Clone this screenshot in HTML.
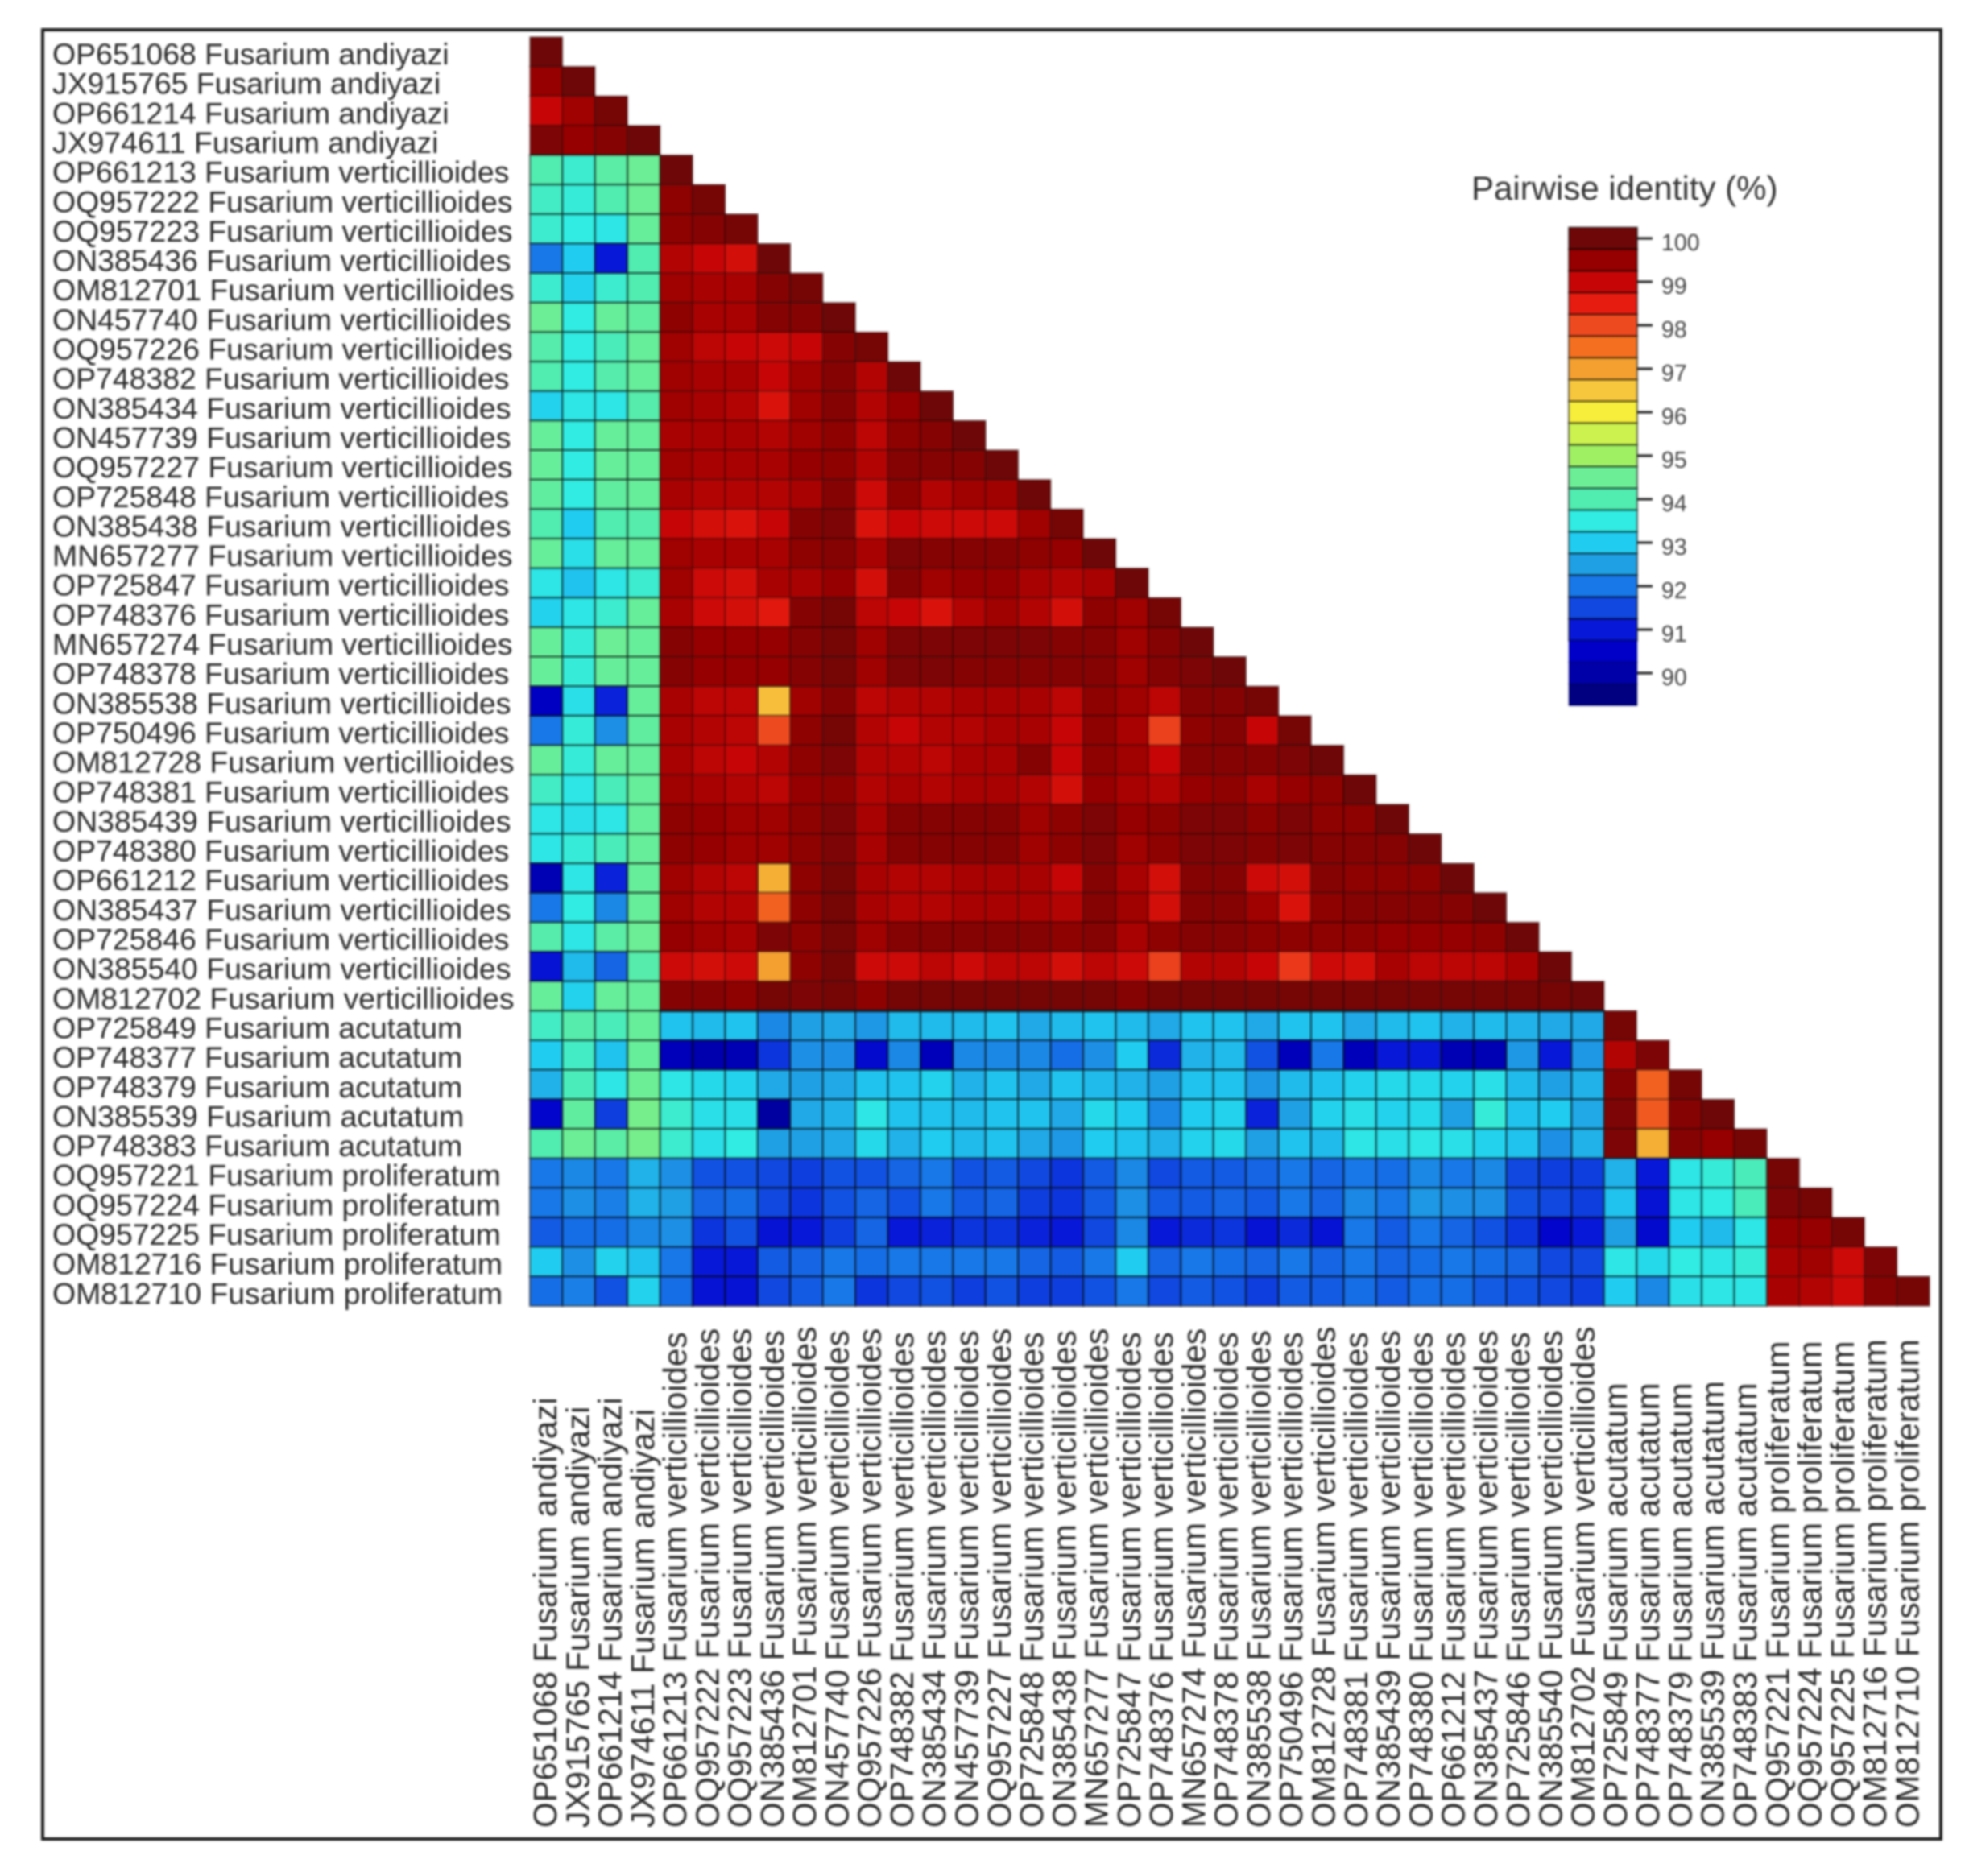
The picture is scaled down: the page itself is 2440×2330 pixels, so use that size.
<!DOCTYPE html>
<html lang="en">
<head>
<meta charset="utf-8">
<title>Pairwise identity heatmap of Fusarium isolates</title>
<style>
  html, body { margin: 0; padding: 0; background: #fff; }
  body { width: 2440px; height: 2330px; overflow: hidden; }
  #chart { display: block; filter: blur(1.4px); }
  text { font-family: "Liberation Sans", Arial, sans-serif; }
</style>
</head>
<body>
<svg id="chart" xmlns="http://www.w3.org/2000/svg" width="2440" height="2330" viewBox="0 0 2440 2330">
  <rect x="0" y="0" width="2440" height="2330" fill="#fff"></rect>
  <rect x="53" y="37" width="2357" height="2247" fill="none" stroke="#1c1c1c" stroke-width="4"></rect>
  <g id="cells"></g>
  <g id="row-labels"></g>
  <g id="col-labels"></g>
  <text x="1827" y="248" font-size="42" fill="#333">Pairwise identity (%)</text>
  <g id="colorbar"></g>
</svg>
<script>
const accessions = ["OP651068","JX915765","OP661214","JX974611","OP661213","OQ957222","OQ957223","ON385436","OM812701","ON457740","OQ957226","OP748382","ON385434","ON457739","OQ957227","OP725848","ON385438","MN657277","OP725847","OP748376","MN657274","OP748378","ON385538","OP750496","OM812728","OP748381","ON385439","OP748380","OP661212","ON385437","OP725846","ON385540","OM812702","OP725849","OP748377","OP748379","ON385539","OP748383","OQ957221","OQ957224","OQ957225","OM812716","OM812710"];
const species = ["andiyazi","andiyazi","andiyazi","andiyazi","verticillioides","verticillioides","verticillioides","verticillioides","verticillioides","verticillioides","verticillioides","verticillioides","verticillioides","verticillioides","verticillioides","verticillioides","verticillioides","verticillioides","verticillioides","verticillioides","verticillioides","verticillioides","verticillioides","verticillioides","verticillioides","verticillioides","verticillioides","verticillioides","verticillioides","verticillioides","verticillioides","verticillioides","verticillioides","acutatum","acutatum","acutatum","acutatum","acutatum","proliferatum","proliferatum","proliferatum","proliferatum","proliferatum"];
const tickValues = [100,99,98,97,96,95,94,93,92,91,90];
const identity = [
[100],
[99.5,100],
[99.0,99.4,99.9],
[99.8,99.5,99.7,100],
[94.0,93.7,94.2,94.5,100],
[93.8,93.6,94.0,94.5,99.6,99.9],
[93.7,93.5,93.4,94.4,99.6,99.7,99.9],
[92.0,93.0,91.0,94.0,99.2,99.0,98.8,100],
[93.7,93.1,93.7,94.0,99.4,99.3,99.3,99.7,99.9],
[94.5,93.5,94.4,94.3,99.6,99.3,99.3,99.7,99.7,100],
[94.1,93.5,93.9,94.4,99.4,99.1,99.0,98.9,99.0,99.7,99.9],
[94.0,93.5,94.1,94.4,99.4,99.3,99.3,99.0,99.4,99.7,99.2,100],
[93.1,93.4,93.4,94.1,99.4,99.3,99.2,98.7,99.4,99.7,99.2,99.5,100],
[94.4,93.5,94.4,94.4,99.3,99.3,99.3,99.2,99.4,99.6,99.1,99.6,99.7,100],
[94.4,93.5,94.4,94.4,99.4,99.3,99.3,99.3,99.5,99.6,99.2,99.7,99.7,99.7,100],
[94.3,93.5,94.3,94.4,99.3,99.2,99.2,99.2,99.3,99.7,98.9,99.6,99.2,99.4,99.4,100],
[94.0,93.0,94.0,94.1,99.0,98.8,98.7,99.0,99.7,99.8,98.7,99.0,98.9,98.9,98.9,99.4,99.9],
[94.4,93.3,94.4,94.4,99.4,99.3,99.3,99.3,99.6,99.7,99.3,99.8,99.7,99.7,99.7,99.6,99.5,100],
[93.4,92.9,93.4,93.7,99.4,98.9,98.8,99.3,99.3,99.5,98.8,99.7,99.4,99.5,99.5,99.3,99.2,99.3,100],
[93.1,93.4,93.7,94.4,99.3,98.9,98.8,98.6,99.7,99.9,99.1,99.0,98.7,99.2,99.4,99.2,98.8,99.6,99.4,99.9],
[94.4,93.6,94.5,94.4,99.7,99.5,99.5,99.5,99.7,99.9,99.4,99.8,99.8,99.8,99.8,99.8,99.7,99.7,99.4,99.7,100],
[94.4,93.6,94.4,94.4,99.7,99.5,99.5,99.5,99.7,99.9,99.4,99.8,99.8,99.7,99.7,99.7,99.7,99.7,99.4,99.7,99.8,100],
[90.4,93.3,91.1,94.4,99.3,99.1,99.1,96.6,99.4,99.7,99.1,99.2,99.2,99.3,99.3,99.3,99.1,99.6,99.4,99.1,99.7,99.7,99.9],
[92.0,93.6,92.3,94.3,99.3,99.2,99.1,98.0,99.6,99.9,99.2,99.0,99.2,99.2,99.3,99.3,99.0,99.6,99.3,98.1,99.6,99.7,99.0,99.9],
[94.4,93.6,94.4,94.4,99.3,99.1,99.0,99.2,99.6,99.8,99.2,99.2,99.1,99.3,99.3,99.7,99.0,99.6,99.4,99.0,99.7,99.7,99.7,99.8,100],
[93.8,93.4,93.9,94.4,99.4,99.3,99.2,99.1,99.5,99.6,99.2,99.3,99.2,99.3,99.3,99.2,98.8,99.5,99.3,99.2,99.5,99.6,99.3,99.5,99.6,100],
[93.4,93.3,93.4,94.4,99.6,99.5,99.4,99.4,99.6,99.8,99.3,99.7,99.7,99.7,99.7,99.4,99.6,99.8,99.5,99.6,99.8,99.8,99.6,99.8,99.6,99.6,100],
[93.4,93.6,93.9,94.4,99.6,99.5,99.4,99.4,99.6,99.8,99.3,99.7,99.7,99.7,99.7,99.4,99.6,99.8,99.4,99.6,99.8,99.8,99.7,99.8,99.7,99.7,99.7,100],
[90.2,93.4,91.1,94.4,99.4,99.2,99.1,96.8,99.6,99.9,99.3,99.2,99.2,99.3,99.3,99.3,99.0,99.7,99.3,98.8,99.7,99.7,98.9,98.8,99.7,99.6,99.6,99.6,100],
[92.0,93.5,92.2,94.4,99.4,99.2,99.2,97.7,99.6,99.9,99.3,99.2,99.2,99.3,99.3,99.3,99.2,99.7,99.4,98.8,99.7,99.7,99.4,98.7,99.6,99.7,99.7,99.7,99.7,100],
[94.1,93.4,94.2,94.5,99.5,99.4,99.3,99.8,99.6,99.9,99.4,99.7,99.7,99.7,99.7,99.7,99.6,99.7,99.3,99.6,99.7,99.7,99.6,99.6,99.6,99.6,99.5,99.5,99.5,99.6,100],
[90.9,92.8,91.8,94.1,98.9,98.8,98.9,97.0,99.6,99.9,98.9,98.9,99.1,98.9,99.1,99.1,98.8,99.1,98.9,98.1,99.2,99.2,99.0,98.2,98.9,98.8,99.3,99.1,99.1,99.1,99.3,100],
[94.4,93.1,94.4,94.4,99.7,99.7,99.6,99.9,99.8,99.9,99.6,99.9,99.9,99.9,99.9,99.9,99.9,99.9,99.7,99.9,99.9,99.9,99.9,99.9,99.9,99.9,99.9,99.9,99.9,99.9,99.9,99.9,100],
[93.8,94.1,93.9,94.4,92.9,92.8,92.9,92.2,92.5,92.6,92.4,92.8,92.8,92.8,92.9,92.6,92.8,92.9,92.8,92.6,92.9,92.9,92.6,92.9,92.9,92.6,92.8,92.9,92.7,92.8,92.7,92.6,92.6,99.9],
[93.0,93.8,92.9,94.4,90.3,90.1,90.2,91.3,92.3,92.3,90.7,92.2,90.3,92.2,92.2,92.2,91.9,92.3,93.0,91.2,92.7,92.8,91.6,90.3,92.0,90.3,91.0,91.0,90.2,90.2,92.4,91.0,92.4,99.2,99.8],
[92.7,93.9,93.4,94.5,93.4,93.2,93.1,92.6,92.5,92.6,92.9,92.9,93.1,92.7,92.9,92.6,92.9,92.8,92.7,92.5,92.9,92.9,92.4,92.8,92.9,93.1,93.2,93.2,93.1,93.3,92.8,92.5,92.7,99.7,97.7,99.9],
[90.6,94.3,91.4,94.6,93.7,93.3,93.3,89.9,92.6,92.7,93.4,92.9,92.9,92.8,92.9,92.9,92.6,93.2,93.0,92.2,93.0,93.1,91.1,92.5,93.1,93.3,93.1,93.2,92.5,93.6,92.9,93.0,92.6,99.8,97.8,99.7,100],
[94.0,94.5,94.2,94.6,93.7,93.3,93.5,92.5,92.5,92.6,93.2,92.7,93.0,92.8,92.9,92.6,92.4,93.0,92.9,92.7,93.1,93.2,92.5,92.9,92.8,93.4,93.3,93.4,93.3,93.1,92.9,92.3,92.7,99.8,96.8,99.7,99.5,99.9],
[92.0,92.2,92.0,92.7,92.3,91.6,91.6,91.5,91.4,91.6,91.6,91.8,92.0,91.6,91.7,91.5,91.3,91.7,92.2,91.5,91.7,91.7,91.8,92.0,91.8,92.0,91.9,92.2,92.0,92.2,91.5,91.4,91.4,92.7,91.0,93.4,93.6,93.9,99.9],
[92.0,92.3,92.1,92.7,92.5,91.8,91.9,91.5,91.3,91.6,91.8,91.6,92.0,91.7,91.8,91.4,91.3,91.7,92.3,91.7,91.7,91.8,91.7,92.0,91.8,92.2,92.0,92.4,92.3,92.3,91.6,91.5,91.4,92.9,90.9,93.4,93.5,93.9,99.8,99.9],
[91.7,91.9,91.9,92.2,92.3,91.3,91.6,90.9,91.0,91.4,91.8,91.0,91.1,91.3,91.3,91.1,91.0,91.5,92.2,91.0,91.2,91.3,90.9,91.2,90.9,92.0,91.7,92.0,91.8,91.6,91.3,90.6,91.0,92.5,90.7,93.0,92.8,93.4,99.5,99.5,99.9],
[93.0,92.3,93.1,92.9,92.0,91.0,91.0,91.7,91.8,92.0,91.9,92.0,92.0,92.0,92.0,91.8,91.7,92.0,93.0,91.8,92.0,91.9,91.8,92.0,91.8,92.0,91.8,91.9,92.0,91.9,91.8,91.5,91.5,93.4,93.2,93.5,93.4,93.6,99.3,99.4,98.9,99.8],
[91.9,92.1,91.6,93.1,91.9,90.9,90.9,91.5,91.7,92.0,91.3,91.5,91.6,91.4,91.6,91.4,91.4,91.6,92.0,91.5,91.7,91.6,91.4,91.7,91.7,91.9,91.7,91.9,91.9,91.7,91.6,91.5,91.4,93.0,92.2,93.3,93.4,93.4,99.3,99.2,98.9,99.7,99.9]
];
const stopValues = [100,99.5,99,98.5,98,97.5,97,96.5,96,95.5,95,94.5,94,93.5,93,92.5,92,91.5,91,90.5,90,89.5];
const stopColors = [[110,8,8],[150,0,0],[198,6,6],[230,28,16],[238,74,32],[244,112,32],[244,160,48],[246,198,60],[246,238,58],[204,242,80],[160,240,100],[108,238,150],[80,236,176],[48,236,226],[32,204,240],[32,160,228],[24,120,232],[16,72,224],[8,24,216],[0,0,200],[0,0,168],[0,0,128]];

const SVG_NS = "http://www.w3.org/2000/svg";
const gridLeft = 658, gridTop = 46, colStep = 40.42, rowStep = 36.65;
const barLeft = 1948, barWidth = 85, barTickTop = 296, pxPerUnit = 54;

function xCol(i) { return gridLeft + i * colStep; }
function yRow(j) { return gridTop + j * rowStep; }
function yBar(v) { return barTickTop + (100 - v) * pxPerUnit; }
function colorOf(v) {
  if (v >= stopValues[0]) return "rgb(" + stopColors[0].join(",") + ")";
  for (let k = 1; k < stopValues.length; k++) {
    if (v >= stopValues[k]) {
      const t = (v - stopValues[k]) / (stopValues[k - 1] - stopValues[k]);
      const a = stopColors[k], b = stopColors[k - 1];
      return "rgb(" + [0, 1, 2].map(function (c) { return Math.round(a[c] + (b[c] - a[c]) * t); }).join(",") + ")";
    }
  }
  return "rgb(" + stopColors[stopColors.length - 1].join(",") + ")";
}
function make(tag, attrs, parent, textValue) {
  const el = document.createElementNS(SVG_NS, tag);
  Object.keys(attrs).forEach(function (key) { el.setAttribute(key, attrs[key]); });
  if (textValue !== undefined) el.textContent = textValue;
  parent.appendChild(el);
  return el;
}

const cellsGroup = document.getElementById("cells");
identity.forEach(function (row, j) {
  row.forEach(function (value, i) {
    const cell = make("rect", {
      x: xCol(i), y: yRow(j), width: colStep, height: rowStep,
      fill: colorOf(value), stroke: "#000",
      "stroke-opacity": (value >= 97 ? 0.25 : 0.5),
      "stroke-width": 2.2
    }, cellsGroup);
    
    
  });
});
const separator = make("line", {
  x1: xCol(4), x2: xCol(33), y1: yRow(33), y2: yRow(33),
  stroke: "#101820", "stroke-width": 3.5, "stroke-opacity": 0.75
}, cellsGroup);



const rowLabelGroup = document.getElementById("row-labels");
accessions.forEach(function (acc, j) {
  const label = make("text", {
    x: 65, y: yRow(j) + 34, "font-size": 37.4, fill: "#2a2a2a"
  }, rowLabelGroup, acc + " Fusarium " + species[j]);
  
  
});

const colLabelGroup = document.getElementById("col-labels");
accessions.forEach(function (acc, i) {
  const bx = 691 + i * 40.27;
  const label = make("text", {
    x: bx, y: 2270, "font-size": 40.6, fill: "#2a2a2a",
    transform: "rotate(-90 " + bx + " 2270)"
  }, colLabelGroup, acc + " Fusarium " + species[i]);
  
  
});

const colorbarGroup = document.getElementById("colorbar");
for (let v = 100; v >= 89.5; v -= 0.5) {
  const band = make("rect", {
    x: barLeft, y: yBar(v + 0.25), width: barWidth, height: pxPerUnit / 2,
    fill: colorOf(v),
    stroke: "#000",
    "stroke-opacity": (v >= 91 ? 0.55 : 0.15),
    "stroke-width": 2
  }, colorbarGroup);
  
  
}
tickValues.forEach(function (tv) {
  const tick = make("line", {
    x1: barLeft + barWidth, x2: barLeft + barWidth + 19, y1: yBar(tv), y2: yBar(tv),
    stroke: "#222", "stroke-width": 3
  }, colorbarGroup);
  
  
  const tl = make("text", {
    x: 2063, y: yBar(tv) + 15, "font-size": 28.5, fill: "#444"
  }, colorbarGroup, String(tv));
  
  
});
</script>
</body>
</html>
